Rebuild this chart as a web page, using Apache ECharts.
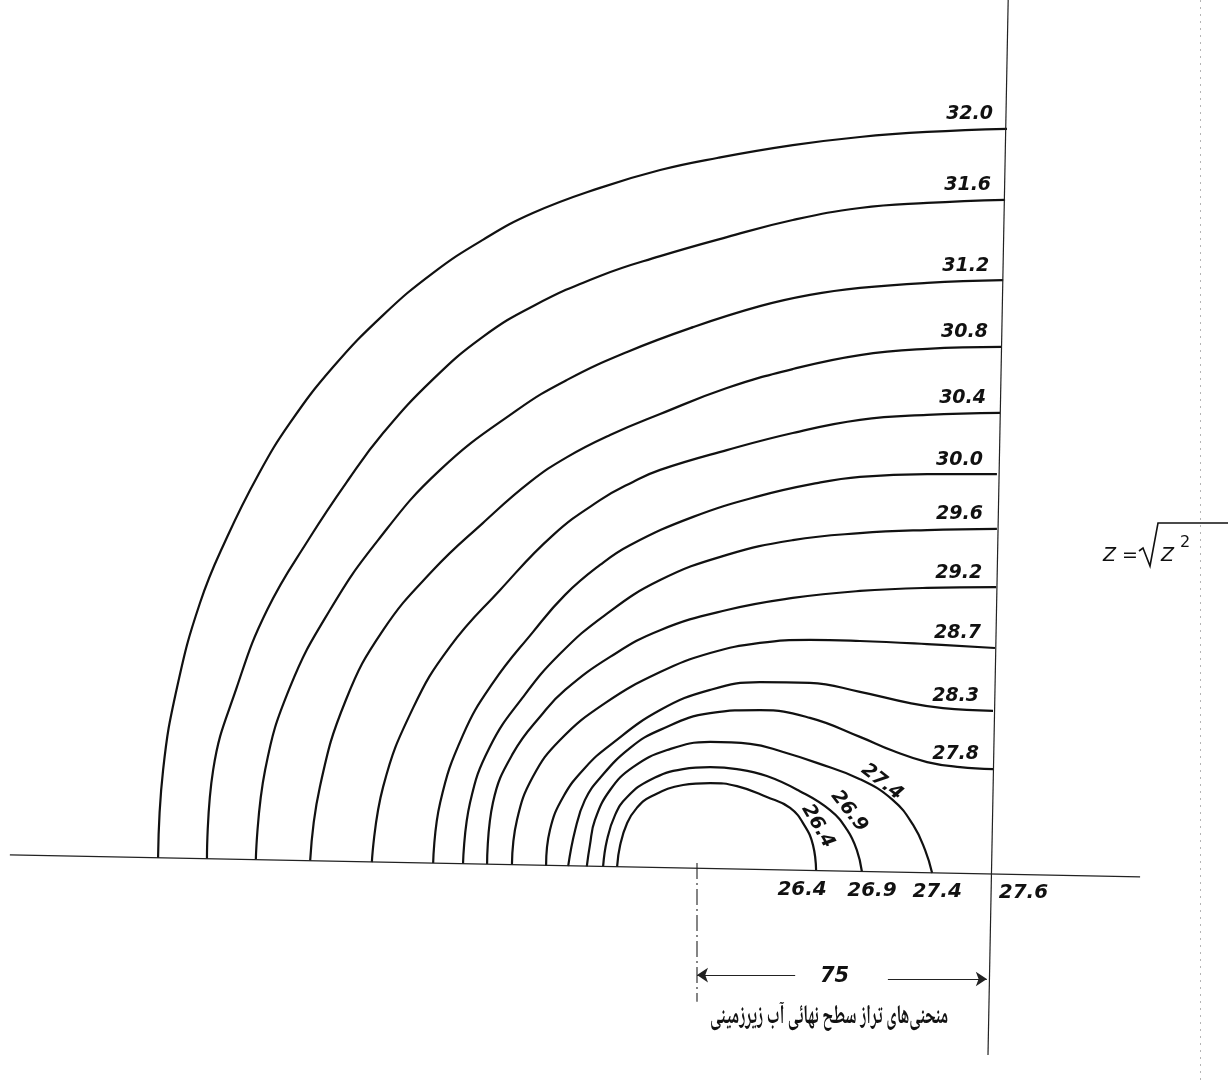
<!DOCTYPE html>
<html>
<head>
<meta charset="utf-8">
<script src="https://cdn.jsdelivr.net/npm/echarts@6/dist/echarts.min.js"></script>
<style>
  html, body { margin: 0; padding: 0; background: #fff; }
  #chart { width: 1231px; height: 1083px; }
</style>
</head>
<body>
<div id="chart"></div>
<script>
// Final water-table contours around the well, levels in metres.
// Curve points are [distance from the well centre, height above the ground line], in metres.
const levels = [32.0, 31.6, 31.2, 30.8, 30.4, 30.0, 29.6, 29.2, 28.7, 28.3, 27.8, 27.4, 26.9, 26.4];

const c320 = [[-138.9,2.6],[-137.6,25.3],[-134.0,46.6],[-128.1,68.3],[-121.1,85.3],[-113.1,101.3],[-104.9,114.7],[-93.8,129.1],[-80.9,142.5],[-68.0,153.4],[-55.2,161.9],[-42.3,168.8],[-25.0,175.3],[-9.5,179.9],[5.2,183.0],[24.7,186.3],[42.0,188.4],[59.3,189.7],[79.9,190.5]];
const c316 = [[-126.3,2.4],[-124.7,25.3],[-118.6,46.6],[-110.8,66.5],[-99.7,85.3],[-89.9,100.0],[-80.9,112.1],[-68.0,126.0],[-55.2,136.9],[-42.3,144.8],[-25.0,152.6],[-9.5,157.7],[7.7,162.6],[24.7,167.0],[42.0,170.1],[59.3,171.4],[79.4,172.2]];
const c312 = [[-113.7,2.3],[-111.3,25.3],[-104.9,46.6],[-94.6,66.5],[-82.2,84.5],[-66.2,102.6],[-46.4,118.0],[-33.5,125.8],[-18.0,133.0],[-1.0,139.4],[16.2,144.8],[29.1,147.7],[42.0,149.5],[59.3,150.8],[78.9,151.5]];
const c308 = [[-99.7,1.9],[-97.2,20.9],[-90.5,43.3],[-80.9,61.3],[-68.0,76.8],[-55.2,88.9],[-43.0,99.5],[-33.5,105.9],[-22.4,111.6],[-9.5,117.0],[7.7,123.7],[24.7,128.6],[42.0,132.2],[59.3,133.8],[78.6,134.3]];
const c304 = [[-83.8,1.5],[-80.9,20.9],[-73.2,41.2],[-63.7,57.0],[-50.8,71.6],[-37.1,85.8],[-25.0,94.8],[-16.5,99.5],[-9.5,102.6],[7.7,107.7],[24.7,112.1],[42.0,115.5],[59.3,116.8],[78.1,117.3]];
const c300 = [[-68.0,1.3],[-66.2,16.8],[-60.3,34.3],[-52.6,47.7],[-42.3,60.8],[-34.0,70.4],[-25.0,78.1],[-17.3,83.2],[-1.0,90.5],[16.2,95.9],[30.9,99.2],[42.0,100.8],[59.3,101.5],[77.3,101.5]];
const c296 = [[-60.3,1.1],[-58.5,16.8],[-53.4,31.2],[-44.8,44.1],[-35.3,55.2],[-23.7,65.2],[-9.5,74.2],[7.7,80.7],[24.7,84.5],[42.0,86.3],[59.3,87.1],[77.3,87.4]];
const c292 = [[-54.1,1.0],[-52.6,16.8],[-47.4,29.6],[-39.7,39.9],[-34.0,45.9],[-22.4,54.4],[-9.5,61.3],[7.7,66.5],[24.7,69.6],[42.0,71.4],[59.3,72.2],[77.1,72.4]];
const c287 = [[-47.7,0.8],[-46.4,12.4],[-42.3,23.5],[-35.3,33.0],[-23.7,42.5],[-9.5,50.5],[3.4,55.4],[16.2,58.0],[29.1,58.8],[42.0,58.5],[59.3,57.7],[76.8,56.7]];
const c283 = [[-38.9,0.5],[-37.9,9.8],[-34.5,18.3],[-28.9,25.8],[-22.4,31.7],[-9.5,40.7],[3.4,45.9],[16.2,47.9],[29.1,47.7],[42.0,45.4],[54.9,42.5],[63.4,41.2],[76.3,40.5]];
const c278 = [[-33.2,0.5],[-31.4,9.8],[-28.9,17.5],[-25.0,23.2],[-17.3,30.9],[-9.5,35.6],[3.4,39.9],[16.2,40.7],[29.1,38.7],[42.0,33.8],[50.5,30.2],[59.3,27.3],[67.8,26.0],[76.3,25.5]];
const c274 = [[-28.4,0.4],[-27.6,5.9],[-26.3,12.4],[-22.4,20.1],[-16.5,26.0],[-7.7,30.4],[3.4,32.5],[13.7,32.0],[22.2,29.9],[30.9,27.1],[42.0,22.9],[50.5,17.5],[55.7,11.1],[58.8,4.6],[60.6,-1.3]];
const c269 = [[-24.2,0.4],[-23.2,7.2],[-21.1,13.7],[-18.0,18.3],[-12.1,22.7],[-3.6,25.5],[3.4,26.0],[10.3,25.5],[18.0,23.7],[26.5,19.8],[34.3,14.9],[38.7,9.8],[41.2,4.6],[42.5,-0.9]];
const c264 = [[-20.6,0.3],[-19.8,5.9],[-18.0,11.6],[-15.5,15.5],[-12.1,18.3],[-3.6,21.4],[3.4,21.9],[10.3,21.1],[18.0,18.3],[24.0,15.5],[27.8,10.8],[29.9,5.9],[30.7,-0.7]];

const contours = [c320, c316, c312, c308, c304, c300, c296, c292, c287, c283, c278, c274, c269, c264];

// Ground line, outer boundary and the well axis
const groundLine = [[-177.1, 3.4], [114.2, -2.3]];
const boundaryLine = [[80.2, 223.7], [75.0, -48.2]];
const wellAxis = [[0, 1.3], [0, -34.5]];
const boundaryLevel = 27.6;

// Dimension: well centre to boundary
const spanValue = 75;
const spanLeft = [[25.3, -27.6], [0, -27.6]];
const spanRight = [[49.2, -28.6], [74.7, -28.6]];

const caption = 'منحنی‌های تراز سطح نهائی آب زیرزمینی';

// ---- layout ----
const W = 1231, H = 1083;
const PX_PER_M = 291 / 75;       // drawing scale
const ORIGIN = [697, 868];       // well centre on the ground line, px
const INK = '#111';
const NUM_FONT = 'DejaVu Sans';
const CAPTION_FONT = 'bold 27px "Noto Naskh Arabic", "Noto Sans Arabic", "DejaVu Sans"';
const CAPTION_WIDTH = 238;

const plainLabel = {
  show: true, position: 'inside', formatter: '{b}',
  fontFamily: NUM_FONT, fontStyle: 'italic', fontWeight: 'bold', color: INK, opacity: 1,
  textBorderWidth: 0, textBorderColor: 'transparent', textShadowBlur: 0
};
const labelItem = { color: INK, opacity: 1 };

function shift(p, dxPx, dyPx) {
  return [p[0] + dxPx / PX_PER_M, p[1] - dyPx / PX_PER_M];
}
function intersect(a1, a2, b1, b2) {
  const d = (a2[0]-a1[0])*(b2[1]-b1[1]) - (a2[1]-a1[1])*(b2[0]-b1[0]);
  const t = ((b1[0]-a1[0])*(b2[1]-b1[1]) - (b1[1]-a1[1])*(b2[0]-b1[0])) / d;
  return [a1[0] + t*(a2[0]-a1[0]), a1[1] + t*(a2[1]-a1[1])];
}
const last = arr => arr[arr.length - 1];

const series = [];

// contour curves
contours.forEach((pts, i) => {
  series.push({
    type: 'line', name: levels[i].toFixed(1), data: pts,
    smooth: 0.45, symbol: 'none', silent: true,
    lineStyle: { color: INK, width: 2.2 }
  });
});

// ground line, boundary, well axis
series.push({ type: 'line', data: groundLine, symbol: 'none', silent: true,
  lineStyle: { color: '#222', width: 1.3 } });
series.push({ type: 'line', data: boundaryLine, symbol: 'none', silent: true,
  lineStyle: { color: '#222', width: 1.2 } });
series.push({ type: 'line', data: wellAxis, symbol: 'none', silent: true,
  lineStyle: { color: '#222', width: 1.1, type: [16, 4, 2, 4] } });

// dimension arrows
series.push({
  type: 'lines', coordinateSystem: 'cartesian2d', silent: true,
  symbol: ['none', 'arrow'], symbolSize: 11,
  lineStyle: { color: '#222', width: 1.2, opacity: 1, curveness: 0 },
  data: [{ coords: spanLeft }, { coords: spanRight }]
});

// level labels at the boundary end of each open contour
const openCount = 11;
series.push({
  type: 'scatter', symbolSize: 0, silent: true, itemStyle: labelItem,
  data: contours.slice(0, openCount).map((pts, i) => ({ value: last(pts), name: levels[i].toFixed(1) })),
  label: Object.assign({}, plainLabel, {
    align: 'right', verticalAlign: 'bottom', offset: [-14, -5], fontSize: 19
  })
});

// labels written along the closed contours
const alongLabels = [
  { curve: 11, at: 11, dx: -11, dy: -18, rotate: -38 },
  { curve: 12, at: 10, dx: 19, dy: 1, rotate: -52 },
  { curve: 13, at: 10, dx: 13, dy: 0, rotate: -60 }
];
series.push({
  type: 'scatter', symbolSize: 0, silent: true, itemStyle: labelItem,
  data: alongLabels.map(a => ({
    value: shift(contours[a.curve][a.at], a.dx, a.dy),
    name: levels[a.curve].toFixed(1),
    label: { rotate: a.rotate }
  })),
  label: Object.assign({}, plainLabel, {
    align: 'center', verticalAlign: 'middle', fontSize: 19
  })
});

// levels read on the ground line
const boundaryFoot = intersect(groundLine[0], groundLine[1], boundaryLine[0], boundaryLine[1]);
const groundMarks = [
  { p: last(c264), text: levels[13].toFixed(1), dx: -14 },
  { p: last(c269), text: levels[12].toFixed(1), dx: 10 },
  { p: last(c274), text: levels[11].toFixed(1), dx: 5 },
  { p: boundaryFoot, text: boundaryLevel.toFixed(1), dx: 32 }
];
series.push({
  type: 'scatter', symbolSize: 0, silent: true, itemStyle: labelItem,
  data: groundMarks.map(g => ({ value: shift(g.p, g.dx, 0), name: g.text })),
  label: Object.assign({}, plainLabel, {
    align: 'center', verticalAlign: 'top', offset: [0, 9], fontSize: 20
  })
});

// span value
series.push({
  type: 'scatter', symbolSize: 0, silent: true, itemStyle: labelItem,
  data: [{ value: shift([(spanLeft[0][0] + spanRight[0][0]) / 2, (spanLeft[0][1] + spanRight[0][1]) / 2], -7, 0), name: String(spanValue) }],
  label: Object.assign({}, plainLabel, {
    align: 'center', verticalAlign: 'middle', fontSize: 21
  })
});

// caption is fitted to its line width
const measureCtx = document.createElement('canvas').getContext('2d');
measureCtx.font = CAPTION_FONT;
const captionScale = Math.min(1, CAPTION_WIDTH / measureCtx.measureText(caption).width);

const option = {
  backgroundColor: '#fff',
  animation: false,
  grid: { left: 0, right: 0, top: 0, bottom: 0 },
  xAxis: { type: 'value', min: -ORIGIN[0] / PX_PER_M, max: (W - ORIGIN[0]) / PX_PER_M, show: false },
  yAxis: { type: 'value', min: -(H - ORIGIN[1]) / PX_PER_M, max: ORIGIN[1] / PX_PER_M, show: false },
  series: series,
  graphic: [
    // caption
    { type: 'text', x: 948, y: 1020, scaleX: captionScale, silent: true,
      style: { text: caption, font: CAPTION_FONT, fill: INK, align: 'right', verticalAlign: 'middle' } },
    // Z = sqrt(Z^2)
    { type: 'text', x: 1103, y: 547, silent: true,
      style: { text: 'Z =', font: 'italic 19px "DejaVu Sans"', fill: INK } },
    { type: 'polyline', silent: true,
      shape: { points: [[1139, 551], [1143, 548], [1150, 566], [1158, 523], [1228, 523]] },
      style: { stroke: INK, lineWidth: 1.6, fill: null } },
    { type: 'text', x: 1161, y: 547, silent: true,
      style: { text: 'Z', font: 'italic 19px "DejaVu Sans"', fill: INK } },
    { type: 'text', x: 1180, y: 535, silent: true,
      style: { text: '2', font: '16px "DejaVu Sans"', fill: INK } },
    // faint fold line at the page edge
    { type: 'line', silent: true,
      shape: { x1: 1200.5, y1: 0, x2: 1200.5, y2: H },
      style: { stroke: '#b5b5b5', lineWidth: 1, lineDash: [2, 5] } }
  ]
};

const chart = echarts.init(document.getElementById('chart'), null, { renderer: 'canvas' });
chart.setOption(option);
</script>
</body>
</html>
